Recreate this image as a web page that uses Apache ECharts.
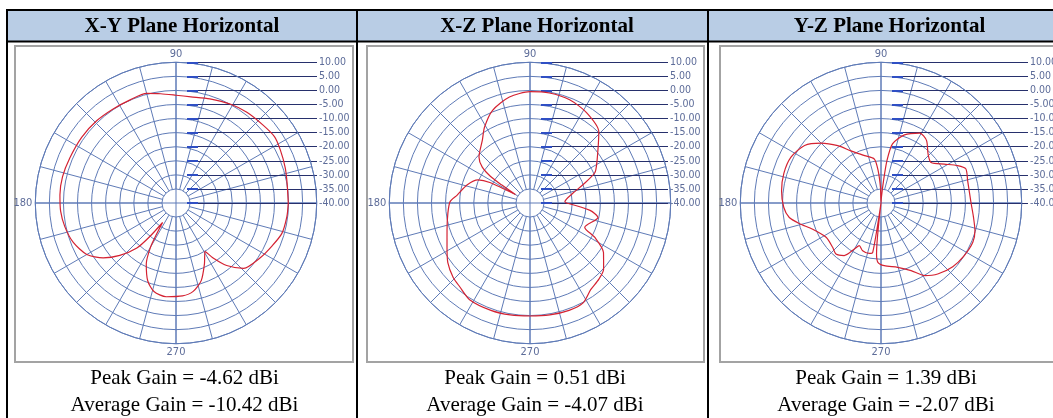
<!DOCTYPE html>
<html>
  <head>
    <meta charset="utf-8" />
    <script src="https://cdn.jsdelivr.net/npm/echarts/dist/echarts.min.js"></script>
    <style>
      body { margin: 0; background: #fff; }
    </style>
  </head>
  <body>
    <div id="gain-plots" style="width: 1053px; height: 418px;"></div>
    <script>
        // Radiation patterns: angle (deg) and gain (dB on the polar grid)
        var xyAngle = [0, 10, 18, 27, 34, 42, 52, 61, 72, 82, 90, 98, 105, 114, 124, 134, 145, 157, 167, 176,
                       184, 192, 201, 210, 217, 223, 229, 232, 235.5, 238, 240, 244, 250, 256, 264, 274, 281, 288,
                       295, 301, 304, 309, 316, 327, 336, 344, 353, 360];
        var xyGain = [-0.1, 0.1, 0.8, 1.6, 2.2, 1.5, 0.9, 0.1, -1.1, -1.9, -1.7, -0.8, 0.3, 0.1, 0.2, 0.6, 0.85, 1.0, 1.4, 1.35,
                      1.1, 0.4, -0.9, -3.4, -7.6, -12.7, -18.8, -24.9, -31.6, -27, -21.9, -15.9, -10.6, -7.6, -6.5, -6.9, -8.0, -11,
                      -16.1, -20, -16.4, -11.4, -6.6, -4.3, -2.6, -0.85, -0.3, -0.1];

        var xzAngle = [0, 2, 13, 19, 25, 31, 41, 46, 58, 69, 80, 90, 101, 112, 121, 127, 138, 143, 146, 147.5, 150, 153,
                       156, 164, 174, 179, 187, 198, 208, 216, 224, 230, 238, 250, 260, 270, 280, 290, 298, 305, 312,
                       318, 326, 332, 336, 348, 353, 360];
        var xzGain = [-27, -27.6, -24.3, -20.1, -14.6, -12.3, -7.8, -4.8, -2.1, -0.7, -0.3, -0.45, -1.65, -4.5, -8.6, -11.9, -15.6, -18.7, -23, -28, -34, -24,
                      -19.8, -16.7, -13.9, -11.6, -10.6, -9, -6.6, -3.9, -2, -1.15, 0.5, 0.6, 0.4, 0.16, 0.4, 0.6, 0.2, -2.4, -3.5,
                      -4.8, -8.5, -13.9, -18.7, -15.3, -18.5, -27];

        var yzAngle = [0, 14.5, 22, 26, 31.6, 39, 46, 54, 61, 71, 79, 82, 83.5, 86, 89, 92, 95, 98.6, 109, 120, 127, 135,
                       143, 153, 163, 173, 182.5, 189, 194, 201, 212, 222.5, 228.6, 235, 240, 243, 249, 257, 260.5, 263,
                       265, 267, 273, 284.5, 294, 301, 308.6, 318.4, 327.7, 336.8, 343.6, 351, 360];
        var yzGain = [-8, -8.2, -7.5, -9.7, -13.6, -17.1, -15.9, -12.5, -11.6, -14.4, -18.6, -24.8, -32, -38, -40, -34.4, -28.5, -24.2, -22.2, -18.6, -14.5, -9.9,
                      -6, -4.1, -3.9, -4.4, -5.4, -7, -10, -14, -17, -16.7, -15.8, -17.2, -21.1, -23, -21.8, -21.6, -22.2, -40,
                      -21.8, -18.9, -17.7, -16.4, -13.7, -9.9, -7.7, -5.9, -5, -4.5, -5.2, -6.7, -8];

        var planeTitles = ['X-Y Plane Horizontal', 'X-Z Plane Horizontal', 'Y-Z Plane Horizontal'];
        var peakGain = ['-4.62', '0.51', '1.39'];
        var avgGain = ['-10.42', '-4.07', '-2.07'];
        var angleLabels = [90, 180, 270];
        var gainMin = -40, gainMax = 10, gainStep = 5;

        var patterns = [[xyAngle, xyGain], [xzAngle, xzGain], [yzAngle, yzGain]];

        // table cell layout (pixels)
        var panels = [
          { cx: 176, frame: [15, 353], titleX: 182, textX: 184.5, cell: [8, 356], levelLen: 130 },
          { cx: 530, frame: [367, 704], titleX: 537, textX: 535, cell: [358, 707], levelLen: 127 },
          { cx: 881, frame: [720, 1058], titleX: 889.5, textX: 886, cell: [709, 1070], levelLen: 136 }
        ];
        var CY = 203, R = 140.7, R0 = 14.07;
        var ringColor = '#5f7bb7';
        var labelLineColor = '#27306c';
        var labelColor = '#5d6c99';
        var smallFont = "'DejaVu Sans Condensed', 'Liberation Sans Narrow', sans-serif";

        var chart = echarts.init(document.getElementById('gain-plots'));

        var option = {
            animation: false,
            polar: [], angleAxis: [], radiusAxis: [],
            grid: [], xAxis: [], yAxis: [],
            series: [], graphic: []
        };

        panels.forEach(function (p, i) {
            // grid circles, cross and outer ring
            option.polar.push({ center: [p.cx, CY], radius: [0, R] });
            // 15 degree spokes, starting at the innermost ring
            option.polar.push({ center: [p.cx, CY], radius: [R0, R] });

            option.angleAxis.push({
                polarIndex: 2 * i, type: 'value', min: 0, max: 360, interval: 90,
                startAngle: 0, clockwise: false,
                axisLine: { lineStyle: { color: ringColor, width: 1 } },
                axisTick: { show: false },
                axisLabel: {
                    margin: 3, color: labelColor, fontSize: 11, fontFamily: smallFont,
                    formatter: function (v) { return angleLabels.indexOf(v) >= 0 ? String(v) : ''; }
                },
                splitLine: { show: true, lineStyle: { color: ringColor, width: 1 } }
            });
            option.angleAxis.push({
                polarIndex: 2 * i + 1, type: 'value', min: 0, max: 360, interval: 15,
                startAngle: 0, clockwise: false,
                axisLine: { show: false }, axisTick: { show: false }, axisLabel: { show: false },
                splitLine: { show: true, lineStyle: { color: ringColor, width: 1 } }
            });
            option.radiusAxis.push({
                polarIndex: 2 * i, type: 'value', min: gainMin, max: gainMax, interval: gainStep,
                axisLine: { show: false }, axisTick: { show: false }, axisLabel: { show: false },
                splitLine: { show: true, lineStyle: { color: ringColor, width: 1 } }
            });
            option.radiusAxis.push({
                polarIndex: 2 * i + 1, type: 'value', min: 0, max: 1, show: false
            });

            // horizontal level lines with the dB labels on the right
            option.grid.push({
                left: p.cx + 11, top: CY - R, width: p.levelLen, height: R,
                outerBoundsMode: 'none'
            });
            option.xAxis.push({ gridIndex: i, type: 'value', min: 0, max: 1, show: false });
            option.yAxis.push({
                gridIndex: i, type: 'value', position: 'left',
                min: gainMin, max: gainMax, interval: gainStep,
                axisLine: { show: false },
                axisTick: { show: true, inside: true, length: 11, lineStyle: { color: '#2f4fc4', width: 2 } },
                axisLabel: { show: false },
                splitLine: { show: true, lineStyle: { color: labelLineColor, width: 1 } }
            });
            option.yAxis.push({
                gridIndex: i, type: 'value', position: 'right',
                min: gainMin, max: gainMax, interval: gainStep,
                axisLine: { show: false }, axisTick: { show: false },
                axisLabel: {
                    margin: 2, color: labelColor, fontSize: 10.5, fontFamily: smallFont,
                    formatter: function (v) { return v.toFixed(2); }
                },
                splitLine: { show: false }
            });

            var ang = patterns[i][0], gain = patterns[i][1];
            option.series.push({
                type: 'line',
                coordinateSystem: 'polar',
                polarIndex: 2 * i,
                data: gain.map(function (g, k) { return [g, ang[k]]; }),
                showSymbol: false,
                smooth: 0.25,
                silent: true,
                lineStyle: { color: '#d42232', width: 1.2 },
                z: 5
            });

            // table cell: header fill, plot frame, texts
            option.graphic.push({
                type: 'rect', z: -2,
                shape: { x: p.cell[0], y: 11, width: p.cell[1] - p.cell[0], height: 30 },
                style: { fill: '#b9cde5' }
            });
            option.graphic.push({
                type: 'rect', z: -2,
                shape: { x: p.frame[0], y: 46, width: p.frame[1] - p.frame[0], height: 316 },
                style: { fill: '#ffffff', stroke: '#a3a3a3', lineWidth: 2 }
            });
            option.graphic.push({
                type: 'text', z: 10, x: p.titleX, y: 26.5,
                style: {
                    text: planeTitles[i], fill: '#000',
                    font: 'bold 21px "Liberation Serif", "Times New Roman", serif',
                    textAlign: 'center', textVerticalAlign: 'middle'
                }
            });
            option.graphic.push({
                type: 'text', z: 10, x: p.textX, y: 378.5,
                style: {
                    text: 'Peak Gain = ' + peakGain[i] + ' dBi', fill: '#000',
                    font: '21px "Liberation Serif", "Times New Roman", serif',
                    textAlign: 'center', textVerticalAlign: 'middle'
                }
            });
            option.graphic.push({
                type: 'text', z: 10, x: p.textX, y: 405,
                style: {
                    text: 'Average Gain = ' + avgGain[i] + ' dBi', fill: '#000',
                    font: '21px "Liberation Serif", "Times New Roman", serif',
                    textAlign: 'center', textVerticalAlign: 'middle'
                }
            });
        });

        // table borders
        var borderStyle = { stroke: '#000', lineWidth: 2 };
        option.graphic.push({ type: 'line', z: 10, shape: { x1: 6, y1: 10, x2: 1053, y2: 10 }, style: borderStyle });
        option.graphic.push({ type: 'line', z: 10, shape: { x1: 6, y1: 41.5, x2: 1053, y2: 41.5 }, style: borderStyle });
        [7, 357, 708].forEach(function (x) {
            option.graphic.push({ type: 'line', z: 10, shape: { x1: x, y1: 9, x2: x, y2: 418 }, style: borderStyle });
        });

        chart.setOption(option);
    </script>
  </body>
</html>
